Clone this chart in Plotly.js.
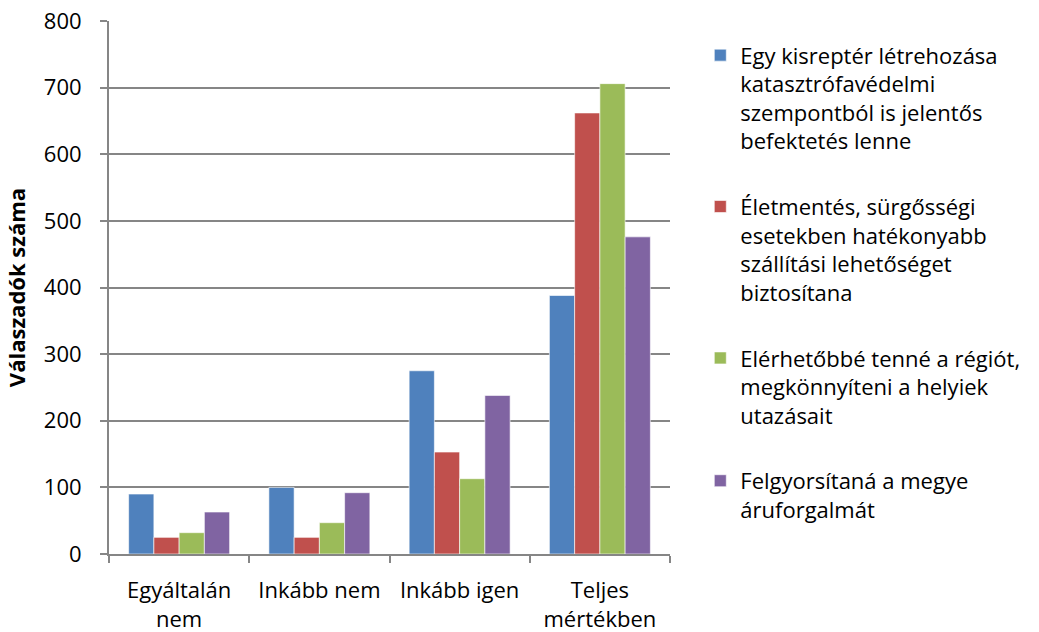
<!DOCTYPE html>
<html>
<head>
<meta charset="utf-8">
<script src="https://cdn.plot.ly/plotly-3.0.1.min.js"></script>
<style>html,body{margin:0;padding:0;background:#fff;}#chart{width:1039px;height:632px;}</style>
</head>
<body>
<div id="chart"></div>
<script>
const categories = ["Egyáltalán<br>nem", "Inkább nem", "Inkább igen", "Teljes<br>mértékben"];
const seriesNames = [
  "Egy kisreptér létrehozása<br>katasztrófavédelmi<br>szempontból is jelentős<br>befektetés lenne",
  "Életmentés, sürgősségi<br>esetekben hatékonyabb<br>szállítási lehetőséget<br>biztosítana",
  "Elérhetőbbé tenné a régiót,<br>megkönnyíteni a helyiek<br>utazásait",
  "Felgyorsítaná a megye<br>áruforgalmát"
];
const reptér = [90, 100, 275, 388];
const eletmentes = [25, 25, 153, 662];
const elerheto = [32, 47, 113, 706];
const aruforgalom = [63, 92, 238, 476];
const colors = ["#4F81BD", "#C0504D", "#9BBB59", "#8064A2"];
const yTicks = [0, 100, 200, 300, 400, 500, 600, 700, 800];

const values = [reptér, eletmentes, elerheto, aruforgalom];
const traces = values.map((v, i) => ({
  type: "bar",
  x: categories,
  y: v,
  name: seriesNames[i],
  legendgroup: "g" + i,
  marker: {color: colors[i], line: {color: "rgba(255,255,255,0.6)", width: 1}},
  hoverinfo: "x+y"
}));

const font = "'Open Sans', sans-serif";
const layout = {
  width: 1039, height: 632,
  margin: {l: 109, r: 369, t: 21, b: 78},
  paper_bgcolor: "#fff", plot_bgcolor: "#fff",
  font: {family: font, size: 22, color: "#000"},
  barmode: "group",
  bargap: 0.28,
  bargroupgap: 0,
  xaxis: {
    type: "category",
    showline: true, linecolor: "#868686", linewidth: 2,
    ticks: "outside", tickson: "boundaries", ticklen: 7, tickcolor: "#868686", tickwidth: 2,
    ticklabelstandoff: 16,
    showgrid: false,
    tickfont: {family: font, size: 22}
  },
  yaxis: {
    range: [0, 800],
    tickvals: yTicks,
    showline: true, linecolor: "#868686", linewidth: 2,
    ticks: "outside", ticklen: 7, tickcolor: "#868686", tickwidth: 2,
    ticklabelstandoff: 14,
    showgrid: true, gridcolor: "#868686", gridwidth: 2,
    zeroline: false,
    tickfont: {family: font, size: 22},
    title: {text: "Válaszadók száma", font: {family: font, size: 22, weight: "bold"}, standoff: 12}
  },
  legend: {
    x: 1.054, xanchor: "left",
    y: 0.975, yanchor: "top",
    valign: "top",
    traceorder: "grouped",
    tracegroupgap: 34,
    font: {family: font, size: 22},
    itemwidth: 30
  },
  showlegend: true
};

Plotly.newPlot("chart", traces, layout, {displayModeBar: false, staticPlot: true});
</script>
</body>
</html>
